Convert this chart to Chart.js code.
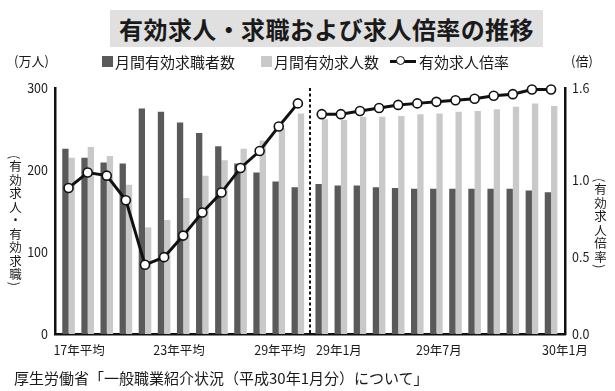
<!DOCTYPE html>
<html lang="ja">
<head>
<meta charset="utf-8">
<script src="https://cdn.jsdelivr.net/npm/chart.js@4.4.1/dist/chart.umd.min.js"></script>
<style>
  body { margin: 0; background: #fff; font-family: "Noto Sans CJK JP", sans-serif; color: #1a1a1a; }
  #wrap { position: relative; width: 615px; height: 391px; overflow: hidden; }
  #wrap canvas { position: absolute; left: 0; top: 0; }
  .title { position: absolute; left: 110px; top: 10px; width: 433px; height: 37px; background: #e0e0e0;
           font-weight: bold; font-size: 24px; line-height: 37px; text-align: center; letter-spacing: 0.4px; }
  .lg { position: absolute; top: 52px; height: 18px; display: flex; align-items: center; font-size: 15px; white-space: nowrap; }
  .sw { display: inline-block; width: 11px; height: 11px; margin-right: 2px; }
  .ln { position: relative; display: inline-block; width: 26px; height: 3px; background: #111; margin-right: 3px; }
  .ln i { position: absolute; left: 6px; top: -4px; width: 7px; height: 7px; border: 1.6px solid #111; border-radius: 50%; background: #fff; }
  .unit { position: absolute; top: 52px; height: 18px; line-height: 18px; font-size: 13px; }
  .vt { position: absolute; writing-mode: vertical-rl; font-size: 12.5px; line-height: 15px; letter-spacing: 1px; white-space: nowrap; }
  .src { position: absolute; left: 14px; top: 368px; font-size: 15px; line-height: 20px; white-space: nowrap; }
</style>
</head>
<body>
<div id="wrap">
  <canvas id="chart" width="615" height="391"></canvas>
  <div class="title">有効求人・求職および求人倍率の推移</div>
  <div class="unit" style="left:14px">(万人)</div>
  <div class="unit" style="left:571px">(倍)</div>
  <div class="lg" style="left:102px"><span class="sw" style="background:#5a5a5a"></span>月間有効求職者数</div>
  <div class="lg" style="left:261px"><span class="sw" style="background:#c9c9c9"></span>月間有効求人数</div>
  <div class="lg" style="left:390px"><span class="ln"><i></i></span>有効求人倍率</div>
  <div class="vt" style="left:8px; top:155px">(有効求人・有効求職)</div>
  <div class="vt" style="left:593px; top:178px">(有効求人倍率)</div>
  <div class="src">厚生労働省「一般職業紹介状況（平成30年1月分）について」</div>
</div>
<script>
// categories
const annualLabels = ['17年', '18年', '19年', '20年', '21年', '22年', '23年', '24年', '25年', '26年', '27年', '28年', '29年'];
const monthLabels = ['29年1月', '29年2月', '29年3月', '29年4月', '29年5月', '29年6月', '29年7月',
                     '29年8月', '29年9月', '29年10月', '29年11月', '29年12月', '30年1月'];

// 月間有効求職者数 (万人)
const seekersAnnual = [226, 215, 209, 208, 275, 271, 258, 245, 229, 208, 197, 186, 179];
const seekersMonthly = [183, 181, 181, 179, 178, 177, 177, 177, 177, 177, 177, 175, 173];

// 月間有効求人数 (万人)
const openingsAnnual = [215, 228, 217, 182, 130, 139, 166, 193, 212, 226, 236, 251, 269];
const openingsMonthly = [262, 261, 265, 265, 266, 268, 269, 271, 272, 274, 277, 281, 278];

// 有効求人倍率 (倍)
const ratioAnnual = [0.95, 1.05, 1.03, 0.87, 0.45, 0.50, 0.64, 0.79, 0.92, 1.08, 1.19, 1.35, 1.50];
const ratioMonthly = [1.43, 1.43, 1.45, 1.47, 1.49, 1.50, 1.51, 1.52, 1.53, 1.55, 1.56, 1.59, 1.59];

// axis tick labels
const tickLabels = ['17年平均', '23年平均', '29年平均', '29年1月', '29年7月', '30年1月'];
const leftTicks = [0, 100, 200, 300];
const rightTicks = [0, 0.5, 1.0, 1.6];

// layout: monthly block sits a bit apart from the yearly block
const GAP = 0.25;
const nA = annualLabels.length;
const xA = i => i;
const xM = j => nA + GAP + j;
const splitAt = nA - 1 + (1 + GAP) / 2;
const tickAt = [0.55, 5.78, 11.06, 14.15, 19.38, 25.98];

const pts = (vals, fx) => vals.map((v, i) => ({ x: fx(i), y: v }));

const seekers = pts(seekersAnnual, xA).concat(pts(seekersMonthly, xM));
const openings = pts(openingsAnnual, xA).concat(pts(openingsMonthly, xM));
const ratio = pts(ratioAnnual, xA).concat([{ x: splitAt, y: null }], pts(ratioMonthly, xM));

const divider = {
  id: 'divider',
  beforeDatasetsDraw(chart) {
    const { ctx, chartArea } = chart;
    const x = Math.round(chart.scales.x.getPixelForValue(splitAt));
    ctx.save();
    ctx.strokeStyle = '#111';
    ctx.lineWidth = 2;
    ctx.setLineDash([3, 2.5]);
    ctx.beginPath();
    ctx.moveTo(x, chartArea.top);
    ctx.lineTo(x, chartArea.bottom);
    ctx.stroke();
    ctx.restore();
  }
};

Chart.defaults.font.family = '"Noto Sans CJK JP", sans-serif';
Chart.defaults.color = '#1a1a1a';

new Chart(document.getElementById('chart'), {
  type: 'bar',
  data: {
    datasets: [
      {
        type: 'line',
        label: '有効求人倍率',
        data: ratio,
        yAxisID: 'y1',
        borderColor: '#111',
        borderWidth: 3,
        tension: 0,
        spanGaps: false,
        pointRadius: 4.5,
        pointBorderWidth: 1.6,
        pointBackgroundColor: '#fff',
        pointBorderColor: '#111',
        clip: false,
        order: 0
      },
      {
        label: '月間有効求職者数',
        data: seekers,
        yAxisID: 'y',
        backgroundColor: '#5a5a5a',
        borderWidth: 0,
        categoryPercentage: 0.66,
        barPercentage: 1.0,
        order: 1
      },
      {
        label: '月間有効求人数',
        data: openings,
        yAxisID: 'y',
        backgroundColor: '#c9c9c9',
        borderWidth: 0,
        categoryPercentage: 0.66,
        barPercentage: 1.0,
        order: 1
      }
    ]
  },
  options: {
    responsive: false,
    animation: false,
    layout: { padding: { top: 88, bottom: 29, left: 0, right: 0 } },
    plugins: { legend: { display: false }, tooltip: { enabled: false } },
    scales: {
      x: {
        type: 'linear',
        min: -0.71,
        max: 25.98,
        offset: false,
        grid: { display: false, drawTicks: false },
        border: { display: true, color: '#111', width: 2.5 },
        afterBuildTicks: s => { s.ticks = tickAt.map(v => ({ value: v })); },
        afterFit: s => { s.height = 28; },
        ticks: {
          autoSkip: false,
          maxRotation: 0,
          padding: 9,
          font: { size: 12.5 },
          callback: (v, i) => tickLabels[i]
        }
      },
      y: {
        position: 'left',
        min: 0,
        max: 300,
        grid: { display: false, drawTicks: false },
        border: { display: true, color: '#111', width: 2.5 },
        afterBuildTicks: s => { s.ticks = leftTicks.map(v => ({ value: v })); },
        afterFit: s => { s.width = 55; },
        ticks: { padding: 7, font: { size: 12.5 } }
      },
      y1: {
        position: 'right',
        min: 0,
        max: 1.6,
        grid: { display: false, drawTicks: false },
        border: { display: true, color: '#111', width: 2.5 },
        afterBuildTicks: s => { s.ticks = rightTicks.map(v => ({ value: v })); },
        afterFit: s => { s.width = 50; },
        ticks: { padding: 7, font: { size: 12.5 }, callback: v => v.toFixed(1) }
      }
    }
  },
  plugins: [divider]
});
</script>
</body>
</html>
